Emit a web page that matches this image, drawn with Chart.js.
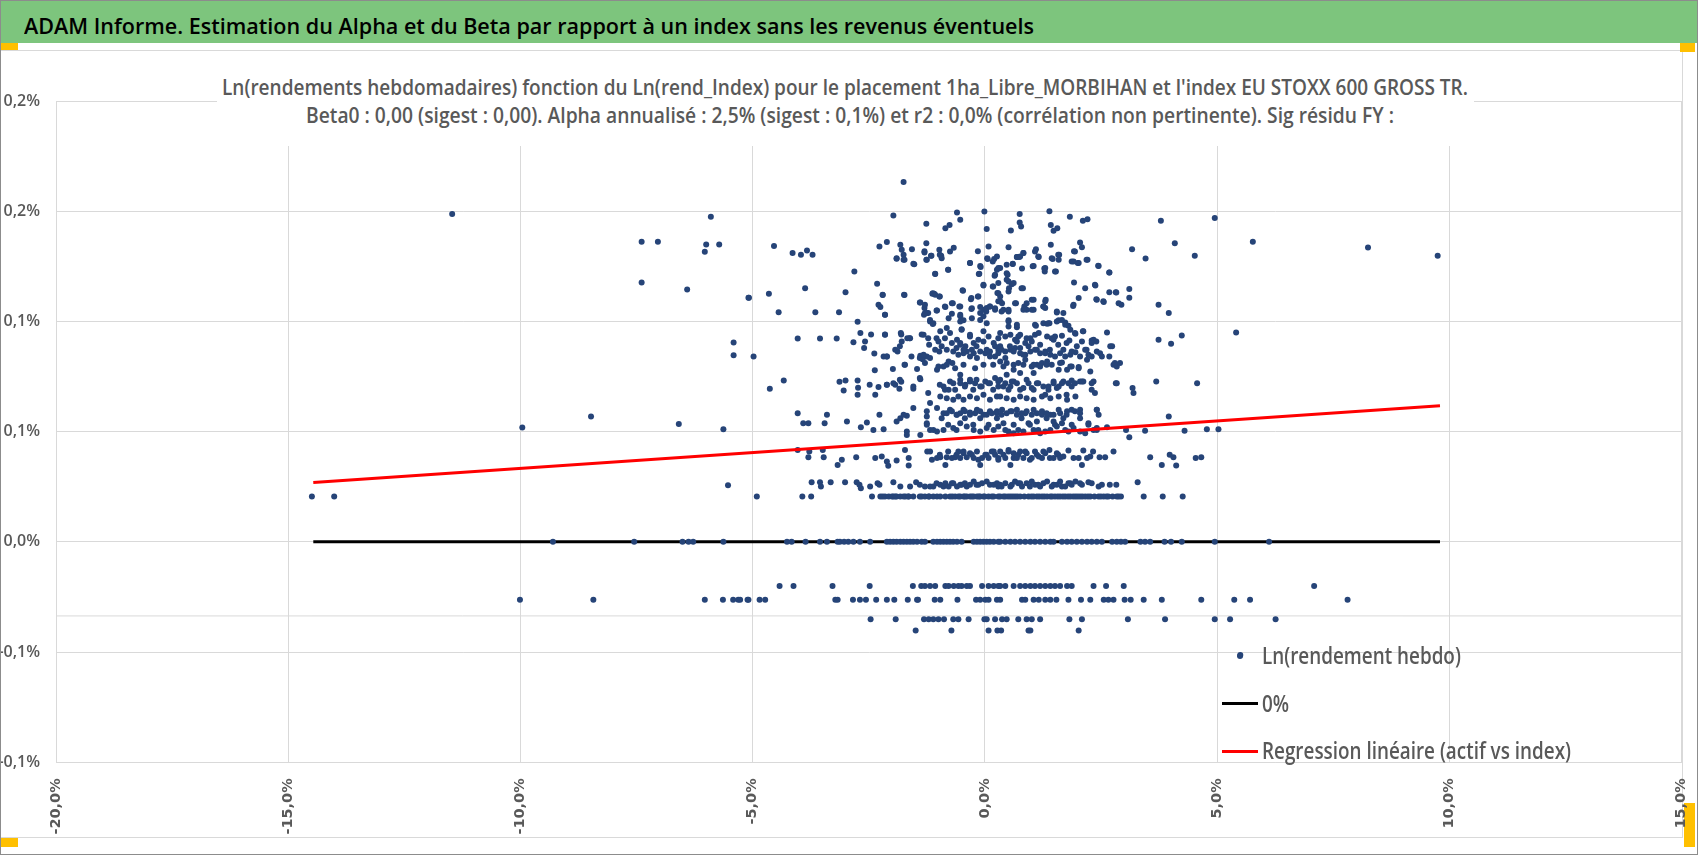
<!DOCTYPE html>
<html><head><meta charset="utf-8">
<script src="https://cdn.jsdelivr.net/npm/chart.js@4.4.1/dist/chart.umd.min.js"></script>
<style>
html,body{margin:0;padding:0;background:#fff;}
#page{position:relative;width:1698px;height:855px;overflow:hidden;background:#fff;font-family:'Open Sans','Lato','DejaVu Sans',sans-serif;}
#outer{position:absolute;left:0;top:0;width:1698px;height:855px;box-sizing:border-box;border:1px solid #8c8c8c;z-index:6;pointer-events:none;}
#header{position:absolute;left:0;top:1px;width:1698px;height:42px;background:#7dc57d;z-index:2;}
.txt{position:absolute;white-space:nowrap;transform-origin:0 50%;font-weight:600;}
#headerText{left:24px;top:6px;height:36px;line-height:36px;color:#000;font-size:22px;}
#frame{position:absolute;left:0;top:50px;width:1683px;height:788px;box-sizing:border-box;border:1px solid #d9d9d9;}
#c{position:absolute;left:0;top:0;z-index:1;}
#titleBox{position:absolute;left:217px;top:68px;width:1257px;height:78px;background:#fff;z-index:3;}
.tl{color:#595959;height:28px;line-height:28px;font-size:21px;z-index:4;}
.lg{left:1262px;height:30px;line-height:30px;color:#595959;font-size:24px;z-index:3;}
.mk{position:absolute;z-index:3;}
.hd{position:absolute;background:#ffc000;z-index:0;}
</style></head>
<body>
<div id="page">
  <div id="frame"></div>
  <div id="header"><div class="txt" id="headerText">ADAM Informe. Estimation du Alpha et du Beta par rapport à un index sans les revenus éventuels</div></div>
  <div class="hd" style="left:0;top:43px;width:18px;height:7px"></div>
  <div class="hd" style="left:1680px;top:43px;width:15px;height:9px"></div>
  <div class="hd" style="left:0;top:838px;width:18px;height:9px"></div>
  <div class="hd" style="left:1684px;top:803px;width:11px;height:44px"></div>
  <canvas id="c" width="1698" height="855" style="width:1698px;height:855px"></canvas>
  <div id="titleBox"></div>
  <div class="txt tl" id="t1" style="left:222px;top:73px">Ln(rendements hebdomadaires) fonction du Ln(rend_Index) pour le placement 1ha_Libre_MORBIHAN et l'index EU STOXX 600 GROSS TR.</div>
  <div class="txt tl" id="t2" style="left:306px;top:101px">Beta0 : 0,00 (sigest : 0,00). Alpha annualisé : 2,5% (sigest : 0,1%) et r2 : 0,0% (corrélation non pertinente). Sig résidu FY :</div>
  <div class="mk" style="left:1237px;top:653px;width:6px;height:6px;border-radius:50%;background:#264478"></div>
  <div class="txt lg" id="l1" style="top:640px">Ln(rendement hebdo)</div>
  <div class="mk" style="left:1222px;top:702px;width:36px;height:3px;background:#000"></div>
  <div class="txt lg" id="l2" style="top:688px">0%</div>
  <div class="mk" style="left:1222px;top:750px;width:36px;height:3px;background:#ff0000"></div>
  <div class="txt lg" id="l3" style="top:735px">Regression linéaire (actif vs index)</div>
  <div id="outer"></div>
</div>
<script>
// ---------- axis ticks ----------
const xTickValues = [-20, -15, -10, -5, 0, 5, 10, 15];
const xTickLabels = ['-20,0%', '-15,0%', '-10,0%', '-5,0%', '0,0%', '5,0%', '10,0%', '15,0%'];
const yTickValues = [0.2, 0.15, 0.1, 0.05, 0, -0.05, -0.1];
const yTickLabels = ['0,2%', '0,2%', '0,1%', '0,1%', '0,0%', '-0,1%', '-0,1%'];

// ---------- weekly log returns: quantised bands (y in %) ----------
const levelZero = 0;
const levelNeg020 = -0.0200;
const levelNeg026 = -0.0263;
const levelNeg035 = -0.0351;
const levelNeg040 = -0.0402;
const levelNeg051 = -0.0513;
const levelPos021 = 0.0206;

const zeroBandX = [-9.30,-7.55,-6.51,-6.38,-6.28,-5.63,-4.26,-4.16,-3.86,-3.55,-3.40,-3.17,-3.12,-3.03,-2.94,-2.83,-2.69,-2.47,-2.11,-2.04,-1.97,-1.90,-1.82,-1.75,-1.68,-1.61,-1.54,-1.46,-1.36,-1.29,-1.11,-1.03,-0.96,-0.89,-0.82,-0.75,-0.68,-0.60,-0.50,-0.24,-0.17,-0.10,-0.03,0.04,0.11,0.19,0.29,0.33,0.44,0.55,0.65,0.76,0.87,0.98,1.08,1.19,1.30,1.41,1.48,1.66,1.77,1.87,1.98,2.09,2.20,2.30,2.41,2.52,2.74,2.84,2.93,3.02,3.35,3.45,3.56,3.87,4.01,4.24,4.95,6.12];
const neg020X = [-4.42,-4.12,-3.28,-2.48,-1.55,-1.37,-1.29,-1.18,-1.07,-0.85,-0.78,-0.67,-0.57,-0.50,-0.39,-0.32,-0.06,0.08,0.19,0.29,0.33,0.44,0.62,0.76,0.87,0.98,1.08,1.19,1.30,1.41,1.51,1.62,1.77,1.87,2.34,2.61,2.99,7.09];
const neg026X = [-10.01,-8.43,-6.03,-5.64,-5.42,-5.31,-5.11,-5.27,-5.09,-4.85,-4.73,-3.22,-3.17,-2.84,-2.69,-2.56,-2.34,-2.11,-1.95,-1.66,-1.46,-1.44,-1.08,-0.96,-0.59,-0.19,-0.10,0.01,0.08,0.26,0.33,0.80,0.87,1.05,1.16,1.30,1.41,1.54,1.80,2.07,2.27,2.56,2.66,2.77,3.01,3.14,3.42,3.81,4.66,5.37,5.71,7.81];
const neg035X = [-2.46,-1.92,-1.31,-1.21,-1.11,-1.00,-0.88,-0.68,-0.57,-0.35,-0.01,0.04,0.22,0.37,0.47,0.72,0.90,1.01,1.19,1.82,2.09,3.08,3.88,4.95,5.28,6.26];
const neg040X = [-1.49,-0.72,0.08,0.27,0.35,0.94,0.98,2.02];
const neg051X = [5.50];
const pos021X = [-14.49,-14.01,-4.91,-3.93,-3.74,-2.43,-2.25,-2.20,-2.15,-2.07,-2.00,-1.97,-1.93,-1.90,-1.82,-1.75,-1.71,-1.65,-1.64,-1.54,-1.40,-1.36,-1.29,-1.21,-1.20,-1.11,-1.03,-0.96,-0.85,-0.75,-0.70,-0.64,-0.57,-0.53,-0.46,-0.43,-0.39,-0.32,-0.28,-0.24,-0.17,-0.13,-0.10,-0.03,0.00,0.08,0.15,0.19,0.29,0.33,0.40,0.44,0.50,0.55,0.60,0.65,0.70,0.76,0.85,0.94,1.00,1.05,1.12,1.17,1.23,1.28,1.34,1.41,1.45,1.51,1.57,1.62,1.68,1.73,1.79,1.84,1.90,1.95,2.00,2.05,2.10,2.16,2.22,2.27,2.36,2.45,2.50,2.56,2.62,2.66,2.75,2.84,2.88,2.93,3.42,3.83,4.26];

// ---------- weekly log returns: scattered points [index %, fund %] ----------
const band026Pts = [[-5.53,0.0257],[-3.73,0.0271],[-3.55,0.0271],[-3.53,0.0251],[-3.32,0.0271],[-3.01,0.0271],[-2.76,0.0271],[-2.70,0.0259],[-2.67,0.0243],[-2.47,0.0251],[-2.31,0.0266],[-2.27,0.0259],[-1.97,0.0271],[-1.82,0.0251],[-1.61,0.0251],[-1.48,0.0271],[-1.40,0.0259],[-1.29,0.0251],[-1.18,0.0251],[-1.11,0.0251],[-1.04,0.0266],[-0.96,0.0259],[-0.89,0.0251],[-0.85,0.0266],[-0.78,0.0251],[-0.71,0.0266],[-0.68,0.0266],[-0.60,0.0251],[-0.53,0.0259],[-0.50,0.0259],[-0.43,0.0266],[-0.39,0.0251],[-0.32,0.0259],[-0.24,0.0274],[-0.18,0.0259],[-0.14,0.0259],[-0.06,0.0266],[0.04,0.0274],[0.11,0.0259],[0.19,0.0259],[0.26,0.0266],[0.29,0.0251],[0.33,0.0259],[0.36,0.0251],[0.44,0.0266],[0.55,0.0251],[0.58,0.0259],[0.65,0.0274],[0.72,0.0266],[0.76,0.0266],[0.80,0.0251],[0.90,0.0266],[0.97,0.0251],[1.01,0.0274],[1.08,0.0259],[1.15,0.0259],[1.19,0.0251],[1.26,0.0266],[1.34,0.0274],[1.44,0.0251],[1.48,0.0259],[1.55,0.0259],[1.62,0.0274],[1.66,0.0251],[1.73,0.0251],[1.80,0.0266],[1.84,0.0266],[1.87,0.0259],[1.95,0.0274],[2.05,0.0266],[2.09,0.0259],[2.23,0.0271],[2.30,0.0266],[2.45,0.0251],[2.52,0.0259],[2.69,0.0259],[2.83,0.0259],[3.29,0.0271]];
const band040Pts = [[-4.03,0.0417],[-3.78,0.0410],[-3.80,0.0384],[-3.49,0.0417],[-3.47,0.0384],[-3.17,0.0349],[-3.08,0.0372],[-2.77,0.0384],[-2.36,0.0380],[-2.22,0.0387],[-2.11,0.0365],[-2.08,0.0345],[-1.90,0.0369],[-1.72,0.0417],[-1.64,0.0380],[-1.64,0.0346],[-1.24,0.0410],[-1.18,0.0410],[-1.14,0.0372],[-1.03,0.0380],[-0.97,0.0395],[-0.96,0.0384],[-0.85,0.0349],[-0.82,0.0384],[-0.79,0.0410],[-0.71,0.0380],[-0.64,0.0384],[-0.61,0.0395],[-0.57,0.0410],[-0.53,0.0380],[-0.46,0.0402],[-0.46,0.0410],[-0.39,0.0384],[-0.32,0.0402],[-0.28,0.0395],[-0.24,0.0380],[-0.17,0.0410],[-0.14,0.0372],[-0.10,0.0349],[-0.06,0.0380],[0.01,0.0395],[0.04,0.0395],[0.08,0.0380],[0.15,0.0410],[0.19,0.0410],[0.22,0.0395],[0.29,0.0380],[0.29,0.0372],[0.33,0.0410],[0.40,0.0395],[0.44,0.0380],[0.51,0.0417],[0.51,0.0410],[0.55,0.0349],[0.62,0.0402],[0.62,0.0380],[0.69,0.0380],[0.72,0.0395],[0.76,0.0410],[0.83,0.0380],[0.87,0.0410],[0.90,0.0402],[0.97,0.0372],[1.01,0.0380],[1.08,0.0410],[1.12,0.0395],[1.16,0.0387],[1.23,0.0380],[1.26,0.0410],[1.30,0.0402],[1.39,0.0417],[1.40,0.0380],[1.48,0.0380],[1.55,0.0402],[1.58,0.0395],[1.62,0.0380],[1.69,0.0387],[1.80,0.0414],[1.91,0.0380],[2.02,0.0380],[2.09,0.0349],[2.12,0.0414],[2.20,0.0380],[2.27,0.0387],[2.33,0.0410],[2.47,0.0384],[2.59,0.0384],[2.77,0.0410],[3.56,0.0384],[3.81,0.0349],[3.98,0.0395],[4.06,0.0384],[4.12,0.0346],[4.54,0.0380],[4.66,0.0384]];
const band050Pts = [[-9.96,0.0519],[-8.48,0.0569],[-6.59,0.0535],[-5.63,0.0511],[-3.91,0.0538],[-3.80,0.0538],[-3.45,0.0538],[-2.97,0.0546],[-2.67,0.0520],[-2.54,0.0541],[-2.40,0.0508],[-2.18,0.0511],[-1.90,0.0546],[-1.68,0.0501],[-1.68,0.0485],[-1.39,0.0485],[-1.25,0.0538],[-1.25,0.0531],[-1.18,0.0508],[-1.11,0.0508],[-1.03,0.0501],[-0.93,0.0561],[-0.89,0.0508],[-0.79,0.0531],[-0.68,0.0516],[-0.61,0.0508],[-0.53,0.0538],[-0.43,0.0561],[-0.39,0.0523],[-0.25,0.0531],[-0.24,0.0508],[-0.10,0.0501],[-0.10,0.0561],[0.04,0.0516],[0.08,0.0531],[0.19,0.0508],[0.26,0.0561],[0.29,0.0523],[0.40,0.0538],[0.44,0.0508],[0.51,0.0501],[0.62,0.0493],[0.62,0.0531],[0.72,0.0508],[0.79,0.0561],[0.83,0.0501],[0.94,0.0538],[0.97,0.0531],[1.05,0.0508],[1.12,0.0546],[1.15,0.0508],[1.19,0.0493],[1.30,0.0501],[1.33,0.0561],[1.41,0.0508],[1.48,0.0546],[1.51,0.0531],[1.55,0.0523],[1.66,0.0538],[1.69,0.0561],[1.73,0.0508],[1.80,0.0501],[1.87,0.0531],[1.91,0.0516],[2.05,0.0501],[2.05,0.0561],[2.16,0.0493],[2.23,0.0538],[2.23,0.0531],[2.34,0.0508],[2.41,0.0516],[2.41,0.0508],[2.63,0.0520],[3.04,0.0508],[3.11,0.0475],[3.45,0.0504],[4.30,0.0504],[4.78,0.0511],[5.03,0.0511]];
const upperLeftPts = [[-11.47,0.1487],[-7.39,0.1361],[-7.04,0.1361],[-7.39,0.1177],[-6.41,0.1145],[-5.90,0.1475],[-6.00,0.1349],[-6.03,0.1316],[-5.72,0.1349],[-5.41,0.0904],[-5.41,0.0847],[-5.09,0.1107],
[-1.75,0.1632],[-1.97,0.1481],[-1.26,0.1443],[-0.85,0.1423],[-0.76,0.1438],[-0.60,0.1494],[-0.53,0.1461],[-0.01,0.1499],[0.04,0.1419],[-4.54,0.1342],[-4.14,0.1310],[-3.96,0.1302],[-3.83,0.1322],[-3.71,0.1302],[-2.27,0.1340],[-2.11,0.1360],[-1.82,0.1348],[-1.79,0.1325],[-1.75,0.1302],[-1.90,0.1284],[-1.73,0.1280],[-1.57,0.1328],[-1.52,0.1259],[-1.30,0.1318],[-1.26,0.1355],[-1.26,0.1280],[-1.16,0.1298],[-0.98,0.1325],[-0.94,0.1298],[-0.67,0.1334],[-0.79,0.1234],[-1.07,0.1215],[-2.81,0.1227],[-0.15,0.1318],[-0.32,0.1265],[-0.09,0.1247],[-0.13,0.1215],[0.08,0.1340],[0.06,0.1283],[0.20,0.1283],[0.26,0.1234],[0.21,0.1207],[0.29,0.1174],[0.17,0.1159],[-0.03,0.1163],[-0.47,0.1139],
[-5.08,0.1107],[-4.65,0.1126],[-3.87,0.1151],[-4.44,0.1042],[-3.65,0.1042],[-3.14,0.1042],[-3.00,0.1132],[-2.32,0.1171],[-2.20,0.1120],[-1.73,0.1120],[-2.29,0.1076],[-2.25,0.1065],[-2.15,0.1030],[-2.74,0.0998],[-2.68,0.0947],[-2.58,0.0909],[-2.45,0.0941],[-2.15,0.0941],[-2.83,0.0905],[-2.60,0.0879],[-4.03,0.0923],[-3.55,0.0923],[-3.19,0.0923],[-4.98,0.0841],[-4.33,0.0732],[-4.63,0.0695],[-3.13,0.0726],[-3.00,0.0732],[-3.04,0.0687],[-2.74,0.0732],[-2.73,0.0699],[-2.74,0.0667],[-2.48,0.0713],[-2.37,0.0778],[-2.38,0.0855],[-2.18,0.0841],[-2.11,0.0841],[-2.29,0.0702],[-2.36,0.0667],[-2.11,0.0713],[-1.98,0.0784],[-1.93,0.0713],[-1.88,0.0864],[-1.84,0.0695],[-1.80,0.0726],[-1.73,0.0803],[-1.80,0.0941],[-1.79,0.0909],[-1.67,0.0924],[-1.61,0.0924],[-1.54,0.0695],[-1.46,0.0784],[-1.39,0.0738],[-1.36,0.0941],[-1.39,0.0844],[-1.34,0.0829],[-1.29,0.0811],[-1.25,0.0841],[-1.20,0.0894],
[-1.13,0.1126],[-1.09,0.1126],[-0.98,0.1113],[-1.39,0.1086],[-1.30,0.1061],[-1.25,0.1038],[-1.31,0.1030],[-1.18,0.1000],[-1.12,0.0988],[-1.03,0.1050],[-0.96,0.0955],[-0.85,0.1065],[-0.78,0.1015],[-0.69,0.1083],[-0.55,0.1068],[-0.53,0.1023],[-0.46,0.1005],[-0.50,0.0965],[-0.29,0.1106],[-0.15,0.1113],[-0.29,0.1056],[-0.28,0.1015],[-0.10,0.1038],[-0.03,0.1053],[0.04,0.1061],[0.11,0.1068],[0.22,0.1053],[0.29,0.1091],[0.27,0.1129],[-0.03,0.1023],[0.04,0.0992],
[-0.98,0.0864],[-1.03,0.0781],[-0.89,0.0796],[-0.78,0.0818],[-0.70,0.0811],[-0.60,0.0917],[-0.53,0.0902],[-0.42,0.0887],[-0.32,0.0932],[-0.24,0.0902],[-0.14,0.0917],[-0.03,0.0909],[0.08,0.0932],[0.19,0.0902],[0.29,0.0924],[-0.68,0.0864],[-0.57,0.0849],[-0.46,0.0856],[-0.39,0.0864],[-0.32,0.0841],[-0.24,0.0856],[-0.17,0.0834],[-0.10,0.0864],[0.01,0.0856],[0.11,0.0864],[0.22,0.0841],[0.29,0.0872],
[-0.89,0.0705],[-0.78,0.0690],[-0.68,0.0720],[-0.53,0.0735],[-0.42,0.0713],[-0.32,0.0735],[-0.21,0.0720],[-0.10,0.0705],[0.01,0.0728],[0.11,0.0720],[0.22,0.0743],[0.29,0.0705],[-0.96,0.0660],[-0.82,0.0652],[-0.68,0.0645],[-0.57,0.0660],[-0.46,0.0645],[-0.32,0.0660],[-0.17,0.0652],[-0.03,0.0667],[0.11,0.0645],[0.26,0.0660],
[-1.18,0.0630],[-1.54,0.0607],[-1.25,0.0592],[-1.03,0.0607],[-0.89,0.0584],[-0.75,0.0599],[-0.60,0.0577],[-0.46,0.0599],[-0.32,0.0587],[-0.17,0.0599],[-0.03,0.0577],[0.11,0.0592],[0.26,0.0584],[-4.03,0.0584],[-3.40,0.0577],[-2.27,0.0577],[-1.82,0.0561],[-1.68,0.0572],[-1.25,0.0569]];
const upperRightPts = [[0.75,0.1487],[1.39,0.1500],[1.83,0.1475],[2.11,0.1457],[2.21,0.1463],[3.79,0.1457],[4.95,0.1469],[5.77,0.1361],[0.56,0.1413],[0.75,0.1449],[0.78,0.1431],[1.42,0.1438],[1.48,0.1411],[1.56,0.1423],[0.51,0.1336],[0.83,0.1310],[0.69,0.1292],[0.74,0.1292],[1.10,0.1328],[1.16,0.1292],[1.42,0.1348],[1.46,0.1283],[1.60,0.1302],[1.59,0.1280],[2.05,0.1358],[2.09,0.1336],[1.92,0.1318],[1.87,0.1272],[2.00,0.1265],[2.21,0.1280],[2.44,0.1253],[2.68,0.1222],[3.17,0.1328],[3.46,0.1286],[4.09,0.1355],[4.52,0.1298],[8.25,0.1335],[9.75,0.1298],
[0.33,0.1242],[0.60,0.1260],[0.80,0.1240],[1.03,0.1250],[1.28,0.1240],[1.29,0.1227],[1.53,0.1227],[0.49,0.1212],[0.47,0.1189],[0.58,0.1169],[0.52,0.1151],[0.82,0.1151],[1.92,0.1177],[2.16,0.1151],[2.38,0.1163],[2.68,0.1132],[2.82,0.1132],[3.11,0.1147],[3.11,0.1107],[2.94,0.1076],[2.56,0.1088],[2.40,0.1101],[2.02,0.1106],[1.90,0.1070],[3.74,0.1076],[3.96,0.1038],
[0.33,0.1113],[0.37,0.1083],[0.40,0.1053],[0.51,0.1045],[0.67,0.1083],[0.85,0.1068],[0.90,0.1053],[1.01,0.1098],[1.05,0.1053],[1.26,0.1068],[1.31,0.1098],[1.30,0.1061],[1.55,0.1041],[1.69,0.1038],[1.59,0.1005],[1.73,0.0995],[1.80,0.0980],[0.51,0.1005],[0.51,0.0977],[0.69,0.0974],[1.10,0.0980],[1.34,0.0989],[1.39,0.0992],
[0.33,0.0947],[0.44,0.0932],[0.55,0.0940],[0.65,0.0917],[0.72,0.0932],[0.87,0.0902],[0.98,0.0924],[1.08,0.0940],[1.16,0.0947],[1.34,0.0932],[1.44,0.0924],[1.51,0.0932],[1.66,0.0935],[1.82,0.0914],[1.95,0.0944],[2.12,0.0955],[2.30,0.0914],[2.40,0.0909],[2.63,0.0950],[2.74,0.0887],
[0.33,0.0887],[0.44,0.0864],[0.55,0.0872],[0.65,0.0879],[0.76,0.0856],[0.87,0.0849],[0.98,0.0864],[1.08,0.0872],[1.19,0.0856],[1.30,0.0864],[1.41,0.0849],[1.51,0.0841],[1.62,0.0856],[1.73,0.0841],[1.84,0.0849],[1.95,0.0860],[2.05,0.0841],[2.16,0.0872],[2.23,0.0849],[2.30,0.0841],[2.48,0.0856],[2.68,0.0841],
[0.33,0.0818],[0.47,0.0811],[0.62,0.0781],[0.72,0.0811],[0.87,0.0826],[1.01,0.0796],[1.12,0.0803],[1.23,0.0811],[1.34,0.0818],[1.44,0.0803],[1.59,0.0781],[1.66,0.0814],[1.77,0.0781],[1.87,0.0796],[2.02,0.0793],[2.20,0.0826],[2.77,0.0803],[2.84,0.0796],[3.74,0.0917],[4.01,0.0899],[4.24,0.0936],[5.41,0.0950],
[0.33,0.0735],[0.44,0.0720],[0.55,0.0705],[0.62,0.0728],[0.76,0.0690],[0.90,0.0735],[1.01,0.0698],[1.12,0.0720],[1.26,0.0705],[1.37,0.0690],[1.48,0.0720],[1.59,0.0705],[1.69,0.0728],[1.80,0.0720],[1.87,0.0732],[2.05,0.0728],[2.12,0.0728],[2.34,0.0728],[2.30,0.0690],[2.82,0.0720],[3.18,0.0698],[3.20,0.0675],[3.69,0.0728],[4.57,0.0720],
[0.33,0.0660],[0.47,0.0652],[0.62,0.0645],[0.76,0.0660],[0.90,0.0652],[1.05,0.0645],[1.23,0.0660],[1.41,0.0652],[1.59,0.0660],[1.77,0.0645],[1.95,0.0660],
[0.37,0.0599],[0.55,0.0592],[0.69,0.0599],[0.87,0.0584],[1.05,0.0599],[1.23,0.0592],[1.41,0.0577],[1.59,0.0599],[1.77,0.0592],[1.87,0.0599],[2.05,0.0584],[2.41,0.0599],[2.45,0.0577],[3.96,0.0569]];
const denseCorePts = [[-1.90,0.1287],[-1.75,0.1280],[-1.54,0.1262],[-1.30,0.1313],[-1.25,0.1280],[-1.15,0.1298],[-0.97,0.1302],[-0.93,0.1287],[-0.75,0.1317],[-0.32,0.1265],[-0.10,0.1252],[0.05,0.1287],[0.17,0.1272],[0.26,0.1295],[0.29,0.1242],[0.47,0.1257],[0.60,0.1262],[0.69,0.1292],[0.76,0.1295],[0.83,0.1310],[1.05,0.1252],[1.08,0.1317],[1.15,0.1295],[1.30,0.1242],[1.44,0.1287],[1.51,0.1227],[1.58,0.1302],[1.91,0.1272],[1.94,0.1317],[2.02,0.1265],[2.19,0.1280],[2.45,0.1252],[2.68,0.1222],
[-1.07,0.1216],[-0.79,0.1234],[-0.12,0.1216],[0.22,0.1212],[0.47,0.1219],[0.51,0.1181],[0.62,0.1174],[-0.03,0.1166],[0.18,0.1159],[0.29,0.1128],[0.51,0.1136],[0.79,0.1151],[2.37,0.1166],[2.83,0.1131],[-1.74,0.1121],[-1.12,0.1128],[-1.07,0.1121],[-0.97,0.1113],[-0.48,0.1141],[-0.30,0.1101],[-0.14,0.1113],[-2.20,0.1121],
[-1.40,0.1086],[-1.29,0.1076],[-1.22,0.1038],[-1.04,0.1050],[-0.86,0.1068],[-0.71,0.1083],[-0.53,0.1068],[-0.71,0.1035],[-0.53,0.1030],[-0.28,0.1060],[-0.10,0.1065],[0.03,0.1045],[0.11,0.1068],[0.22,0.1060],[0.33,0.1091],[0.36,0.1045],[0.51,0.1053],[0.65,0.1083],[0.83,0.1053],[0.90,0.1083],[1.05,0.1098],[1.01,0.1053],[1.26,0.1068],[1.30,0.1091],[1.55,0.1045],[1.91,0.1076],[2.41,0.1098],[2.55,0.1091],[2.88,0.1083],[-2.15,0.1030],[-1.29,0.1038],
[-1.18,0.1007],[-1.11,0.0992],[-0.82,0.0970],[-0.75,0.0947],[-0.53,0.1000],[-0.50,0.0962],[-0.32,0.0940],[-0.10,0.1007],[-0.03,0.0955],[0.51,0.1000],[0.69,0.0985],[0.76,0.0940],[0.90,0.0924],[1.08,0.0985],[1.26,0.0992],[1.37,0.0992],[1.55,0.1000],[1.66,0.1007],[1.73,0.0985],[1.84,0.0962],[1.94,0.0947],[2.11,0.0955],[2.34,0.0917],[-2.15,0.0940],[-1.81,0.0947],[-1.62,0.0924],[-1.32,0.0940],[-1.22,0.0924],[-1.04,0.0924],[-0.86,0.0924],
[-2.11,0.0841],[-1.93,0.0871],[-1.83,0.0887],[-1.72,0.0803],[-1.58,0.0841],[-1.40,0.0834],[-1.32,0.0849],[-1.18,0.0834],[-1.07,0.0871],[-1.00,0.0909],[-0.93,0.0887],[-0.82,0.0871],[-0.71,0.0902],[-0.61,0.0879],[-0.53,0.0894],[-0.46,0.0871],[-0.28,0.0871],[-0.18,0.0887],[0.04,0.0871],[0.11,0.0841],[0.22,0.0887],[0.29,0.0856],[0.36,0.0871],[0.44,0.0834],[0.54,0.0887],[0.62,0.0864],[0.69,0.0909],[0.76,0.0879],[0.83,0.0849],[0.94,0.0887],[1.01,0.0909],[1.12,0.0871],[1.19,0.0894],[1.30,0.0856],[1.40,0.0871],[1.48,0.0917],[1.58,0.0894],[1.69,0.0871],[1.76,0.0902],[1.87,0.0864],[1.98,0.0887],[2.09,0.0909],[2.19,0.0871],[2.30,0.0902],[2.41,0.0864],[2.52,0.0841],[2.70,0.0887],[2.80,0.0811],[2.91,0.0811],[-1.00,0.0796],[-0.82,0.0803],[-0.64,0.0788],[-0.46,0.0803],[-0.21,0.0788],[-0.03,0.0803],[0.18,0.0803],[0.40,0.0796],[0.62,0.0803],[0.83,0.0803],[1.05,0.0803],[1.19,0.0796],[1.33,0.0803],[1.62,0.0811],[1.84,0.0796],[2.02,0.0788],
[-2.11,0.0713],[-1.97,0.0720],[-1.83,0.0735],[-1.54,0.0705],[-1.40,0.0743],[-1.22,0.0675],[-0.97,0.0713],[-0.86,0.0690],[-0.75,0.0728],[-0.64,0.0690],[-0.53,0.0720],[-0.43,0.0705],[-0.32,0.0728],[-0.25,0.0690],[-0.18,0.0735],[-0.07,0.0705],[0.08,0.0720],[0.18,0.0690],[0.29,0.0728],[0.40,0.0705],[0.51,0.0690],[0.58,0.0728],[0.69,0.0720],[0.83,0.0698],[0.94,0.0720],[1.05,0.0690],[1.15,0.0720],[1.30,0.0667],[1.37,0.0705],[1.48,0.0728],[1.55,0.0698],[1.66,0.0720],[1.76,0.0667],[1.87,0.0705],[1.94,0.0720],[2.09,0.0728],[2.30,0.0720],[2.37,0.0675],[2.84,0.0720],[2.27,0.0773],[-0.53,0.0758],[0.47,0.0758],[0.76,0.0766],[1.05,0.0766],
[-1.75,0.0577],[-0.82,0.0584],[-0.71,0.0592],[-0.61,0.0577],[-0.53,0.0584],[-0.43,0.0592],[-0.32,0.0577],[-0.21,0.0584],[-0.10,0.0592],[0.04,0.0577],[0.15,0.0584],[0.26,0.0592],[0.36,0.0577],[0.47,0.0584],[0.58,0.0592],[0.69,0.0577],[0.79,0.0584],[0.90,0.0592],[1.01,0.0577],[1.12,0.0584],[1.23,0.0577],[1.33,0.0584],[1.48,0.0577],[1.62,0.0584],[1.76,0.0577],[1.94,0.0592],[2.05,0.0599],[2.41,0.0599]];

// ---------- reference lines ----------
const lineX = [-14.46, 9.80];
const zeroLineY = [0, 0];
const regressionY = [0.0269, 0.0617];
const axisCrossY = -0.0336;

// ---------- build point list ----------
const scatterPts = [];
function addBand(xs, level) { xs.forEach(x => scatterPts.push({x: x, y: level})); }
function addPairs(arr) { arr.forEach(p => scatterPts.push({x: p[0], y: p[1]})); }
addBand(zeroBandX, levelZero);
addBand(neg020X, levelNeg020);
addBand(neg026X, levelNeg026);
addBand(neg035X, levelNeg035);
addBand(neg040X, levelNeg040);
addBand(neg051X, levelNeg051);
addBand(pos021X, levelPos021);
addPairs(band026Pts);
addPairs(band040Pts);
addPairs(band050Pts);
addPairs(upperLeftPts);
addPairs(upperRightPts);
addPairs(denseCorePts);

const GRID = '#d9d9d9';
const TXT = '#595959';

new Chart(document.getElementById('c'), {
  type: 'scatter',
  data: {
    datasets: [
      { label: 'axis', data: [{x: xTickValues[0], y: axisCrossY}, {x: xTickValues[xTickValues.length - 1], y: axisCrossY}],
        showLine: true, borderColor: GRID, borderWidth: 1, pointRadius: 0, order: 3 },
      { label: '0%', data: lineX.map((x, i) => ({x: x, y: zeroLineY[i]})),
        showLine: true, borderColor: '#000000', borderWidth: 3, pointRadius: 0, order: 2 },
      { label: 'Ln(rendement hebdo)', data: scatterPts,
        pointRadius: 3, pointBorderWidth: 0, pointBackgroundColor: '#264478', backgroundColor: '#264478', borderColor: '#264478', order: 1 },
      { label: 'Regression linéaire (actif vs index)', data: lineX.map((x, i) => ({x: x, y: regressionY[i]})),
        showLine: true, borderColor: '#ff0000', borderWidth: 3, pointRadius: 0, order: 0 }
    ]
  },
  options: {
    responsive: false,
    animation: false,
    events: [],
    layout: { autoPadding: false, padding: { left: 0, top: 101, right: 16.5, bottom: 12.7 } },
    plugins: { legend: { display: false }, tooltip: { enabled: false }, title: { display: false } },
    scales: {
      x: {
        type: 'linear', min: xTickValues[0], max: xTickValues[xTickValues.length - 1],
        afterBuildTicks: s => { s.ticks = xTickValues.map(v => ({value: v})); },
        afterFit: s => { s.height = 80; s.paddingLeft = 0; s.paddingRight = 0; },
        ticks: { autoSkip: false, minRotation: 90, maxRotation: 90, padding: 16, color: TXT,
          font: { family: "'DejaVu Sans',sans-serif", size: 14.5, weight: 'bold' },
          callback: v => xTickLabels[xTickValues.indexOf(v)] },
        grid: { color: GRID, lineWidth: 1, drawTicks: false },
        border: { color: GRID, width: 1 }
      },
      y: {
        type: 'linear', min: -0.1, max: 0.2,
        afterBuildTicks: s => { s.ticks = yTickValues.map(v => ({value: v})); },
        afterFit: s => { s.width = 56; s.paddingTop = 0; s.paddingBottom = 0; },
        ticks: { padding: 16, color: TXT, font: { family: "'Open Sans','Lato',sans-serif", size: 16, weight: '600' },
          callback: v => yTickLabels[yTickValues.indexOf(v)] },
        grid: { color: GRID, lineWidth: 1, drawTicks: false },
        border: { color: GRID, width: 1 }
      }
    }
  }
});

// squeeze HTML text horizontally to the reference widths (keeps glyph height)
function squeeze(id, target) {
  const el = document.getElementById(id);
  const w = el.getBoundingClientRect().width;
  el.style.transform = 'scaleX(' + (target / w).toFixed(4) + ')';
  return target / w;
}
squeeze('headerText', 1010);
squeeze('t1', 1246);
squeeze('t2', 1088);
const k = squeeze('l3', 309);
document.getElementById('l1').style.transform = 'scaleX(' + k.toFixed(4) + ')';
document.getElementById('l2').style.transform = 'scaleX(' + k.toFixed(4) + ')';
</script>
</body></html>
